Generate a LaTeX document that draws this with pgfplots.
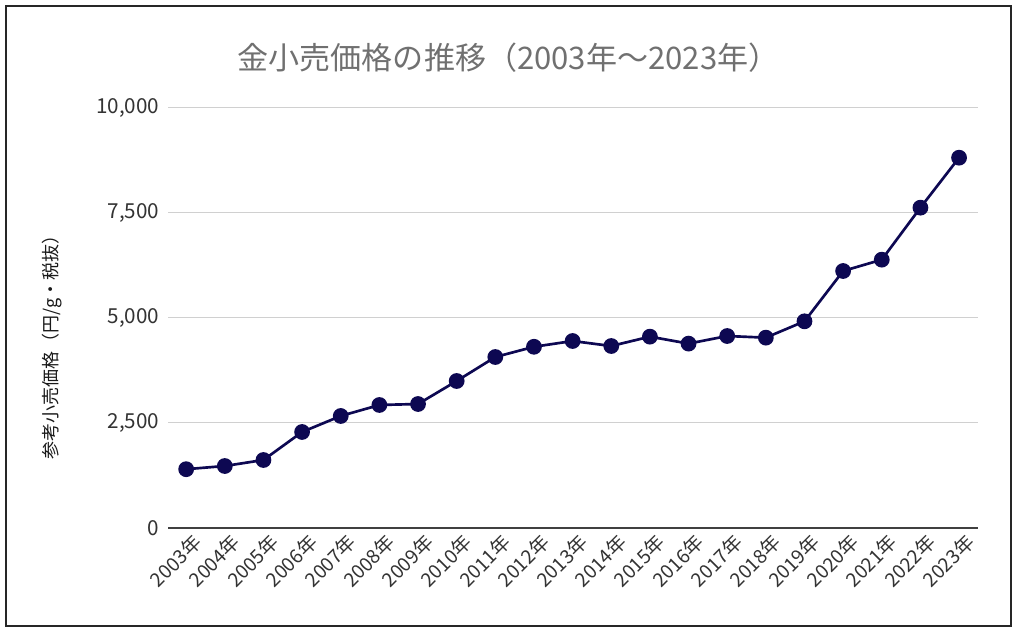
\documentclass[border=0pt]{standalone}
\usepackage{fontspec}
\setmainfont{Noto Sans CJK JP}
\usepackage{pgfplots}
\pgfplotsset{compat=1.18}
\definecolor{navy}{HTML}{0D0852}
\definecolor{titlegray}{HTML}{707070}
\definecolor{ticklab}{HTML}{333333}
\definecolor{gridc}{HTML}{D0D0D0}
\begin{document}
\begin{tikzpicture}[x=1pt,y=1pt]
\path[use as bounding box] (0,0) rectangle (768,476.25);
\draw[line width=1.5pt, black!85] (4.5,6.75) rectangle (758.25,471.75);
\node[text=titlegray, font=\fontsize{23.3}{27}\selectfont] at (381.4,432.75) {金小売価格の推移（2003年～2023年）};
\node[rotate=90, text=black!90, font=\fontsize{13.5}{16}\selectfont] at (39,219) {参考小売価格（円/g・税抜）};
\begin{axis}[
  at={(126pt,80.25pt)}, anchor=south west,
  scale only axis, width=607.5pt, height=315pt,
  xmin=-0.47, xmax=20.49, ymin=0, ymax=10000,
  ytick={0,2500,5000,7500,10000},
  scaled y ticks=false,
  /pgf/number format/1000 sep={,},
  /pgf/number format/assume math mode=true,
  ymajorgrids, grid style={line width=0.75pt, color=gridc},
  axis line style={draw=none},
  major tick length=0pt,
  xtick={0,...,20},
  xticklabels={2003年,2004年,2005年,2006年,2007年,2008年,2009年,2010年,2011年,2012年,2013年,2014年,2015年,2016年,2017年,2018年,2019年,2020年,2021年,2022年,2023年},
  yticklabel style={text=ticklab, font=\fontsize{15.5}{18}\selectfont, anchor=east, xshift=-3pt},
  xticklabel style={text=ticklab, font=\fontsize{14.5}{16}\selectfont, rotate=45, anchor=north east, inner sep=1pt, xshift=1.5pt, yshift=-4pt},
  clip=false,
]
\draw[line width=1pt, black!75] (rel axis cs:0,0) -- (rel axis cs:1,0);
\addplot[color=navy, line width=2pt, mark=*, mark size=4.9pt, mark options={fill=navy, draw=navy}] coordinates {
(0,1400) (1,1476) (2,1619) (3,2286) (4,2667) (5,2929) (6,2952) (7,3500) (8,4071) (9,4315) (10,4452)
(11,4333) (12,4556) (13,4390) (14,4571) (15,4532) (16,4921) (17,6119) (18,6389) (19,7627) (20,8817)
};
\end{axis}
\end{tikzpicture}
\end{document}
